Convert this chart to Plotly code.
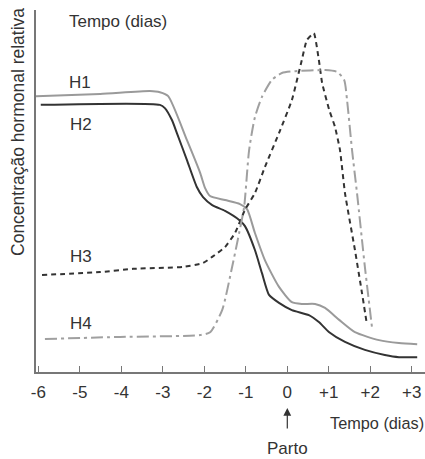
import plotly.graph_objects as go

# Tick labels
tick_vals = [-6, -5, -4, -3, -2, -1, 0, 1, 2, 3]
tick_text = ["-6", "-5", "-4", "-3", "-2", "-1", "0", "+1", "+2", "+3"]

# H1 (light gray solid)
h1_x = [-6.06, -4.51, -3.31, -3.07, -2.87, -2.42, -2.10, -1.98, -1.86, -1.50, -1.14, -0.97,
        -0.78, -0.54, -0.20, 0.11, 0.35, 0.67, 0.91, 1.25, 1.63, 2.21, 2.69, 3.13]
h1_y = [76.2, 76.8, 77.6, 77.3, 76.2, 64.1, 55.0, 50.8, 48.6, 47.5, 46.4, 45.0,
        38.4, 30.9, 23.5, 19.3, 18.8, 18.8, 17.7, 14.4, 11.0, 8.8, 8.0, 7.7]

# H2 (dark solid)
h2_x = [-5.94, -3.07, -2.95, -2.78, -2.66, -2.42, -2.18, -2.03, -1.81, -1.50, -1.16, -1.02,
        -0.78, -0.61, -0.44, -0.20, 0.11, 0.52, 0.76, 1.01, 1.39, 1.87, 2.35, 2.69, 3.13]
h2_y = [73.8, 73.8, 72.9, 69.6, 66.0, 58.6, 51.1, 48.3, 46.1, 44.5, 42.0, 40.3,
        33.7, 27.3, 21.3, 19.1, 17.1, 15.7, 13.8, 11.0, 8.3, 6.1, 4.7, 4.1, 4.1]

# H3 (dark dashed)
h3_x = [-5.91, -4.51, -3.72, -2.52, -2.03, -1.81, -1.50, -1.26, -1.02, -0.78, -0.54, -0.20,
        0.11, 0.35, 0.47, 0.64, 0.76, 0.84, 1.01, 1.15, 1.27, 1.39, 1.63, 1.80, 1.92]
h3_y = [26.8, 27.6, 28.5, 29.0, 30.1, 31.8, 34.5, 38.4, 44.8, 49.4, 56.6, 66.0,
        75.1, 86.2, 91.7, 93.6, 86.2, 79.8, 72.4, 67.7, 61.3, 49.4, 33.7, 21.8, 13.0]

# H4 (light gray dash-dot)
h4_x = [-5.84, -4.03, -2.10, -1.86, -1.57, -1.33, -1.16, -1.04, -0.92, -0.78, -0.61, -0.37,
        -0.13, 0.19, 0.91, 1.20, 1.37, 1.44, 1.56, 1.68, 1.87, 2.04]
h4_y = [9.1, 9.7, 10.2, 11.0, 17.1, 29.0, 38.4, 45.6, 61.3, 70.4, 76.0, 80.7,
        82.6, 83.1, 83.4, 82.9, 80.7, 75.1, 61.3, 49.4, 29.0, 12.4]

FONT = "Liberation Sans, Arial, sans-serif"
TXT = "#333333"
FS = 17

fig = go.Figure()
fig.add_trace(go.Scatter(x=h1_x, y=h1_y, mode="lines", hoverinfo="skip",
                         line=dict(color="#9a9a9a", width=2, shape="spline", smoothing=0.6)))
fig.add_trace(go.Scatter(x=h2_x, y=h2_y, mode="lines", hoverinfo="skip",
                         line=dict(color="#333333", width=2, shape="spline", smoothing=0.6)))
fig.add_trace(go.Scatter(x=h3_x, y=h3_y, mode="lines", hoverinfo="skip",
                         line=dict(color="#333333", width=2, dash="5px,4px", shape="spline", smoothing=0.4)))
fig.add_trace(go.Scatter(x=h4_x, y=h4_y, mode="lines", hoverinfo="skip",
                         line=dict(color="#a0a0a0", width=2, dash="12px,4px,3px,4px", shape="spline", smoothing=0.6)))

annos = [
    dict(x=-5.0, y=80.1, text="H1"),
    dict(x=-4.97, y=68.5, text="H2"),
    dict(x=-4.97, y=32.0, text="H3"),
    dict(x=-4.97, y=13.5, text="H4"),
    dict(x=-4.08, y=96.7, text="Tempo (dias)"),
]
for a in annos:
    fig.add_annotation(x=a["x"], y=a["y"], xref="x", yref="y", text=a["text"], showarrow=False,
                       font=dict(family=FONT, size=FS, color=TXT), xanchor="center", yanchor="middle")

fig.add_annotation(x=0.985, y=-0.1409, xref="x", yref="paper", text="Tempo (dias)", showarrow=False,
                   font=dict(family=FONT, size=16.3, color=TXT), xanchor="left", yanchor="middle")
fig.add_annotation(x=0, y=-0.2127, xref="x", yref="paper", text="Parto", showarrow=False,
                   font=dict(family=FONT, size=FS, color=TXT), xanchor="center", yanchor="middle")
fig.add_annotation(x=0, y=-0.0994, xref="x", yref="paper", text="", showarrow=True,
                   ax=0, ay=22, arrowhead=2, arrowsize=1.3, arrowwidth=1.2, arrowcolor="#333333")
fig.add_annotation(x=-0.0463, y=0.663, xref="paper", yref="paper", text="Concentração hormonal relativa",
                   showarrow=False, textangle=-90,
                   font=dict(family=FONT, size=17.5, color=TXT), xanchor="center", yanchor="middle")

fig.update_layout(
    width=425, height=459,
    margin=dict(l=36, r=0, t=10, b=87),
    paper_bgcolor="white", plot_bgcolor="white",
    showlegend=False, hovermode=False,
    font=dict(family=FONT, size=FS, color=TXT),
)
fig.update_xaxes(range=[-6.055, 3.318], tickvals=tick_vals, ticktext=tick_text,
                 ticks="inside", ticklen=6, tickcolor="#777777", tickwidth=1.2, ticklabelstandoff=4,
                 showline=True, linecolor="#777777", linewidth=1.5, showgrid=False, zeroline=False,
                 tickfont=dict(family=FONT, size=FS, color=TXT))
fig.update_yaxes(range=[0, 100], showticklabels=False, ticks="",
                 showline=True, linecolor="#777777", linewidth=1.5, showgrid=False, zeroline=False)

fig.write_html("out.html", config={"displayModeBar": False},
               post_script="document.body.style.margin='0px';document.body.style.overflow='hidden';")
